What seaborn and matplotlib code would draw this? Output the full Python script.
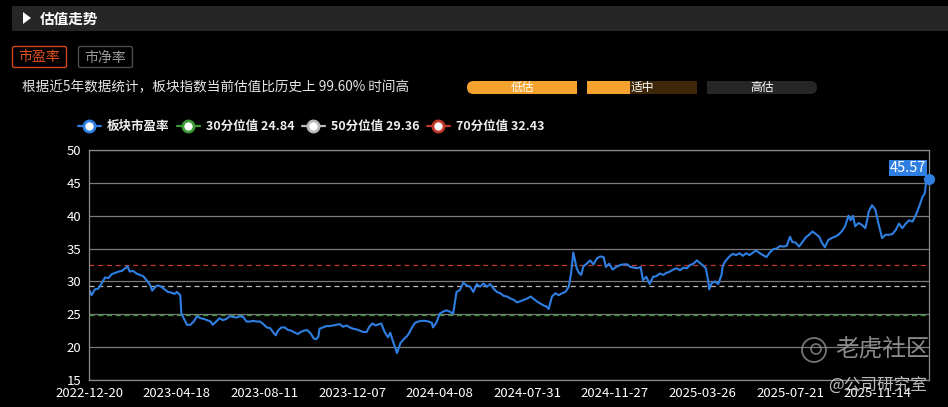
import matplotlib
matplotlib.use("Agg")
import matplotlib.pyplot as plt
from matplotlib.transforms import Affine2D
from matplotlib.patches import Rectangle, FancyBboxPatch, Circle, Polygon
from matplotlib.lines import Line2D
import seaborn as sns
import pandas as pd

# ---------------- data ----------------
day_idx = [0, 2, 5, 8, 11, 14, 17, 20, 23, 26, 29, 32, 34, 36, 39, 42, 45, 48, 51, 54,
           56, 59, 61, 64, 67, 70, 73, 76, 78, 81, 82, 85, 87, 90, 93, 96, 99, 102, 105, 108,
           110, 113, 116, 119, 122, 125, 128, 131, 134, 137, 140, 143, 146, 149, 152, 155, 158, 161, 164, 166,
           168, 171, 174, 177, 180, 183, 186, 188, 191, 194, 197, 200, 202, 204, 205, 208, 211, 214, 217, 220,
           223, 226, 229, 232, 235, 238, 241, 244, 247, 249, 252, 255, 258, 260, 263, 266, 268, 270, 272, 274,
           277, 280, 283, 285, 287, 290, 293, 296, 299, 302, 305, 306, 309, 312, 315, 318, 321, 324, 327, 330,
           333, 336, 339, 342, 345, 348, 351, 354, 357, 360, 363, 366, 369, 372, 375, 378, 381, 384, 387, 390,
           393, 396, 399, 402, 405, 407, 409, 412, 415, 418, 421, 424, 427, 429, 431, 434, 436, 438, 440, 443,
           446, 449, 452, 455, 458, 460, 463, 466, 469, 473, 476, 479, 482, 485, 488, 491, 493, 496, 499, 502,
           505, 508, 511, 514, 517, 520, 523, 526, 529, 532, 535, 538, 541, 543, 546, 549, 551, 552, 554, 557,
           560, 563, 564, 566, 568, 570, 573, 576, 579, 582, 585, 588, 591, 594, 597, 600, 603, 606, 609, 612,
           615, 618, 621, 624, 626, 629, 632, 635, 638, 641, 644, 647, 650, 652, 655, 658, 661, 664, 667, 670,
           673, 676, 678, 680, 682, 685, 688, 691, 693, 694, 697, 700, 703, 706, 709, 712, 715, 718, 721, 724,
           727, 730, 733, 736, 739, 742, 744, 745, 748]
pe_values = [28.7, 27.9, 28.8, 28.9, 29.7, 30.6, 30.5, 31.1, 31.3, 31.5, 31.6, 32.0, 32.3, 31.5, 31.6, 31.2, 31.0, 30.8, 30.2, 29.5,
             28.6, 29.2, 29.4, 29.2, 28.8, 28.4, 28.3, 28.1, 28.4, 27.9, 25.1, 24.1, 23.4, 23.4, 23.9, 24.7, 24.4, 24.3, 24.1, 23.9,
             23.4, 23.9, 24.4, 24.1, 24.3, 24.7, 24.6, 24.5, 24.7, 24.6, 23.9, 23.9, 24.0, 23.9, 23.9, 23.5, 23.0, 22.9, 22.2, 21.8,
             22.5, 23.0, 23.0, 22.6, 22.5, 22.2, 22.0, 22.3, 22.5, 22.6, 22.1, 21.3, 21.2, 21.6, 22.8, 23.0, 23.2, 23.2, 23.3, 23.4,
             23.5, 23.1, 23.3, 23.0, 22.8, 22.7, 22.5, 22.3, 22.3, 23.0, 23.6, 23.3, 23.5, 23.6, 22.3, 21.5, 22.2, 21.1, 20.1, 19.1,
             20.6, 21.2, 21.7, 22.2, 22.9, 23.7, 23.9, 24.0, 24.0, 23.9, 23.7, 23.0, 23.7, 25.1, 25.4, 25.6, 25.4, 25.1, 28.4, 28.7,
             29.8, 29.4, 29.2, 28.4, 29.6, 29.2, 29.7, 29.2, 29.6, 28.9, 28.4, 28.2, 27.8, 27.7, 27.4, 27.2, 26.8, 27.0, 27.2, 27.4,
             27.7, 27.3, 26.9, 26.6, 26.3, 26.2, 25.8, 27.7, 28.2, 27.9, 28.2, 28.4, 29.2, 31.2, 34.4, 32.0, 31.3, 31.0, 32.3, 32.7,
             33.2, 32.6, 33.5, 33.8, 33.7, 32.2, 32.7, 31.8, 32.2, 32.5, 32.6, 32.6, 32.2, 32.1, 32.0, 32.2, 30.2, 30.7, 29.6, 30.7,
             30.8, 31.2, 31.0, 31.3, 31.5, 31.8, 32.0, 31.7, 32.1, 32.0, 32.5, 32.7, 33.2, 32.9, 32.5, 32.0, 30.2, 28.8, 29.7, 30.0,
             29.6, 31.0, 32.3, 33.0, 33.4, 33.8, 34.2, 34.0, 34.3, 33.9, 34.3, 34.0, 34.4, 34.7, 34.3, 34.0, 33.7, 34.4, 34.9, 35.0,
             35.4, 35.3, 35.4, 36.8, 36.0, 35.9, 35.3, 36.0, 36.7, 37.1, 37.6, 37.2, 36.8, 36.0, 35.2, 36.3, 36.6, 36.8, 37.1, 37.6,
             38.4, 40.0, 39.3, 40.0, 38.4, 38.9, 38.6, 38.1, 39.6, 40.6, 41.6, 40.9, 38.6, 36.6, 37.1, 37.1, 37.2, 37.8, 38.8, 38.1,
             38.8, 39.3, 39.1, 40.1, 41.4, 42.9, 43.4, 44.9, 45.57]

tick_idx = [0, 78, 156, 234, 312, 390, 468, 546, 624, 702]
tick_labels = ["2022-12-20", "2023-04-18", "2023-08-11", "2023-12-07", "2024-04-08",
               "2024-07-31", "2024-11-27", "2025-03-26", "2025-07-21", "2025-11-14"]

series_name = "板块市盈率"
pct_names = ["30分位值", "50分位值", "70分位值"]
pct_values = [24.84, 29.36, 32.43]
pct_colors = ["#3d9a35", "#b8b8b8", "#c0392b"]
line_color = "#2f7fe3"

percentile_text = "99.60%"
band_labels = ["低估", "适中", "高估"]

# ---------------- style ----------------
sns.set_style("dark", rc={"axes.facecolor": "black", "figure.facecolor": "black"})
plt.rcParams["font.family"] = ["Noto Sans CJK SC", "DejaVu Sans"]

W, H = 948, 407
fig = plt.figure(figsize=(W / 100, H / 100), dpi=100, facecolor="black")
# pixel transform with origin at top-left
px = Affine2D().scale(1 / W, -1 / H).translate(0, 1) + fig.transFigure

ax = fig.add_axes([89.3 / W, (H - 380) / H, (929.3 - 89.3) / W, 230 / H])
ax.set_facecolor("black")

df = pd.DataFrame({"idx": day_idx, "pe": pe_values})
sns.lineplot(data=df, x="idx", y="pe", ax=ax, color=line_color, linewidth=1.5)

for v, c in zip(pct_values, pct_colors):
    ax.axhline(v, color=c, linestyle=(0, (4, 3)), linewidth=0.9, zorder=1.5)

ax.set_xlim(0, day_idx[-1])
ax.set_ylim(15, 50)
ax.set_yticks(range(15, 51, 5))
ax.set_xticks(tick_idx)
ax.set_xticklabels(tick_labels)
ax.tick_params(axis="both", length=0, colors="white", labelsize=9.5)
ax.tick_params(axis="x", pad=5)
ax.tick_params(axis="y", pad=6)
ax.set_xlabel("")
ax.set_ylabel("")
ax.grid(axis="y", color="#7a7a7a", linewidth=0.9)
ax.grid(axis="x", visible=False)
for s in ax.spines.values():
    s.set_visible(True)
    s.set_color("#8a8a8a")
    s.set_linewidth(0.9)

# end marker + label
ax.plot([day_idx[-1]], [pe_values[-1]], "o", color=line_color, markersize=7, clip_on=False, zorder=5)
ax.annotate(f"{pe_values[-1]:.2f}", xy=(day_idx[-1], pe_values[-1]), xytext=(-2, 3),
            textcoords="offset points", ha="right", va="bottom", color="white", fontsize=10.5,
            bbox=dict(boxstyle="square,pad=0.05", fc="#2f7fe3", ec="none"), annotation_clip=False)

# ---------------- header ----------------
fig.patches.append(Rectangle((12, 6), 936, 25, transform=px, fc="#262626", ec="none"))
fig.patches.append(Polygon([[23, 12], [23, 24], [31, 18]], closed=True, transform=px, fc="white", ec="none"))
fig.text(40, 18.5, "估值走势", transform=px, color="white", fontsize=10.5, fontweight="bold", va="center")

fig.patches.append(FancyBboxPatch((12.5, 46.5), 54, 21, boxstyle="round,pad=0,rounding_size=2", transform=px,
                                  fc="none", ec="#d2461b", lw=1))
fig.text(39.5, 57.5, "市盈率", transform=px, color="#e2501f", fontsize=10, ha="center", va="center")
fig.patches.append(FancyBboxPatch((78.5, 46.5), 54, 21, boxstyle="round,pad=0,rounding_size=2", transform=px,
                                  fc="none", ec="#4a4a4a", lw=1))
fig.text(105.5, 57.5, "市净率", transform=px, color="#9a9a9a", fontsize=10, ha="center", va="center")

fig.text(22, 87, f"根据近5年数据统计，板块指数当前估值比历史上 {percentile_text} 时间高", transform=px,
         color="#e6e6e6", fontsize=9.8, va="center")

# valuation band
fig.patches.append(FancyBboxPatch((467, 81), 110, 13, boxstyle="round,pad=0,rounding_size=6.5", transform=px,
                                  fc="#f5a32e", ec="none"))
fig.patches.append(Rectangle((540, 81), 37, 13, transform=px, fc="#f5a32e", ec="none"))
fig.patches.append(Rectangle((587, 81), 110, 13, transform=px, fc="#3d2708", ec="none"))
fig.patches.append(Rectangle((587, 81), 43, 13, transform=px, fc="#f5a32e", ec="none"))
fig.patches.append(FancyBboxPatch((707, 81), 110, 13, boxstyle="round,pad=0,rounding_size=6.5", transform=px,
                                  fc="#262626", ec="none"))
fig.patches.append(Rectangle((707, 81), 40, 13, transform=px, fc="#262626", ec="none"))
for cx, lab in zip([522, 642, 762], band_labels):
    fig.text(cx, 87.5, lab, transform=px, color="white", fontsize=8.5, ha="center", va="center")

# legend
leg_x = [78, 177, 302, 427]
leg_colors = [line_color] + pct_colors
leg_texts = [series_name] + [f"{n} {v:.2f}" for n, v in zip(pct_names, pct_values)]
for x0, c, t in zip(leg_x, leg_colors, leg_texts):
    fig.add_artist(Line2D([x0, x0 + 23], [126, 126], transform=px, color=c, lw=1.6))
    fig.add_artist(Line2D([x0 + 11.5], [126], transform=px, marker="o", markersize=8,
                          markerfacecolor="white", markeredgecolor=c, markeredgewidth=2, lw=0))
    fig.text(x0 + 29, 126.5, t, transform=px, color="#eeeeee", fontsize=9, fontweight="bold", va="center")

# watermark
fig.patches.append(Circle((814, 350), 12, transform=px, fc="none", ec="#8a8a8a", lw=1.3, alpha=0.85))
fig.patches.append(Circle((816, 349), 5, transform=px, fc="none", ec="#8a8a8a", lw=1.2, alpha=0.85))
fig.text(835, 350, "老虎社区", transform=px, color="#9a9a9a", fontsize=17, va="center", alpha=0.9)
fig.text(828, 385, "@公司研究室", transform=px, color="#cfcfcf", fontsize=12, va="center", alpha=0.9)

fig.savefig("out.png", dpi=100, facecolor="black")
